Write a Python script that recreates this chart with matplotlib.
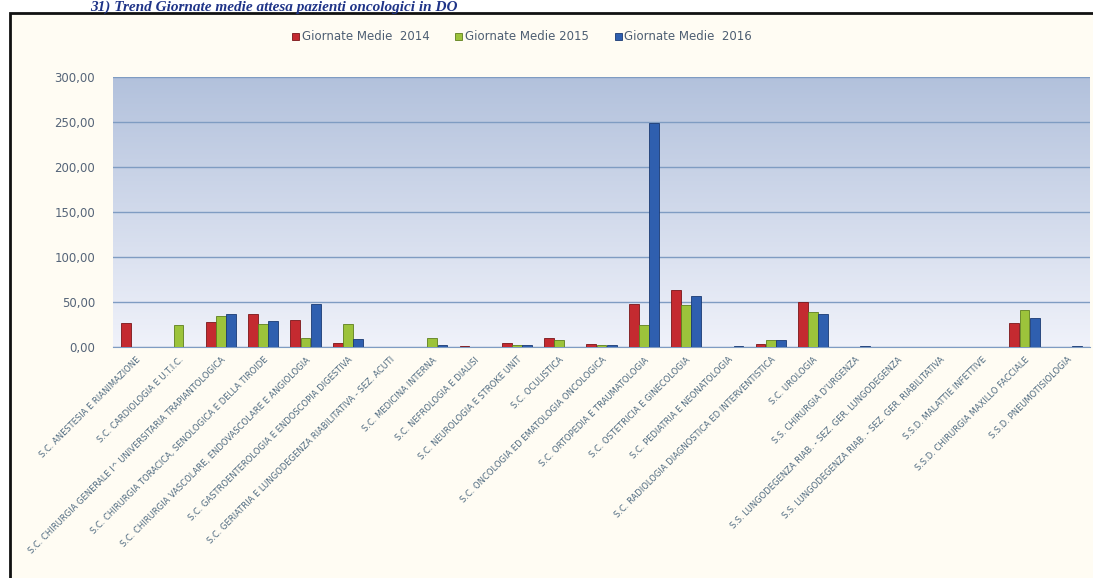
import numpy as np
import matplotlib
matplotlib.use("Agg")
import matplotlib.pyplot as plt
from matplotlib.patches import Rectangle
from matplotlib.ticker import FuncFormatter

categories = [
    "S.C. ANESTESIA E RIANIMAZIONE",
    "S.C. CARDIOLOGIA E U.T.I.C.",
    "S.C. CHIRURGIA GENERALE I^ UNIVERSITARIA TRAPIANTOLOGICA",
    "S.C. CHIRURGIA TORACICA, SENOLOGICA E DELLA TIROIDE",
    "S.C. CHIRURGIA VASCOLARE, ENDOVASCOLARE E ANGIOLOGIA",
    "S.C. GASTROENTEROLOGIA E ENDOSCOPIA DIGESTIVA",
    "S.C. GERIATRIA E LUNGODEGENZA RIABILITATIVA - SEZ. ACUTI",
    "S.C. MEDICINA INTERNA",
    "S.C. NEFROLOGIA E DIALISI",
    "S.C. NEUROLOGIA E STROKE UNIT",
    "S.C. OCULISTICA",
    "S.C. ONCOLOGIA ED EMATOLOGIA ONCOLOGICA",
    "S.C. ORTOPEDIA E TRAUMATOLOGIA",
    "S.C. OSTETRICIA E GINECOLOGIA",
    "S.C. PEDIATRIA E NEONATOLOGIA",
    "S.C. RADIOLOGIA DIAGNOSTICA ED INTERVENTISTICA",
    "S.C. UROLOGIA",
    "S.S. CHIRURGIA D'URGENZA",
    "S.S. LUNGODEGENZA RIAB. - SEZ. GER. LUNGODEGENZA",
    "S.S. LUNGODEGENZA RIAB. - SEZ. GER. RIABILITATIVA",
    "S.S.D. MALATTIE INFETTIVE",
    "S.S.D. CHIRURGIA MAXILLO FACCIALE",
    "S.S.D. PNEUMOTISIOLOGIA",
]

giornate_2014 = [27.2, 0, 27.8, 37, 30.5, 4, 0, 0, 1, 4.5, 10, 3, 48, 63, 0, 3, 50, 0, 0, 0, 0, 26.7, 0]
giornate_2015 = [0, 24, 35, 26, 9.5, 26, 0, 10, 0.5, 2, 7.5, 2, 24, 46.5, 0, 8, 39, 0, 0, 0, 0, 41, 0]
giornate_2016 = [0, 0, 37, 28.6, 48, 9, 0, 2, 0.5, 2, 0, 2, 249, 56.5, 1, 8, 36.4, 1, 0, 0, 0, 32, 0.7]

series_labels = ["Giornate Medie  2014", "Giornate Medie 2015", "Giornate Medie  2016"]
series_colors = ["#c42a30", "#9cc33b", "#2f5faf"]
edge_colors = ["#7a1518", "#5e7f1d", "#1a3a73"]

title = "31) Trend Giornate medie attesa pazienti oncologici in DO"

W, H = 1093, 578
fig = plt.figure(figsize=(W / 100, H / 100), dpi=100)
fig.patch.set_facecolor("white")

# chart frame (drawn behind the axes)
frame = Rectangle((10 / W, -0.05), 1.2, 1 - 13 / H + 0.05, transform=fig.transFigure,
                  facecolor="#fffcf3", edgecolor="#111111", linewidth=2.0, zorder=-10)
fig.patches.append(frame)

fig.text(90 / W, 1 - 11 / H, title, fontsize=11, fontweight="bold", fontstyle="italic",
         family="Liberation Serif", color="#1f3488", va="baseline", ha="left")

ax = fig.add_axes([113 / W, 1 - 347 / H, 977 / W, 270 / H])
ax.set_zorder(5)
ax.set_facecolor("none")

x = np.arange(len(categories))
xlim = (-0.55, len(categories) - 0.45)

# gradient background of the plot area
grad = np.linspace(0, 1, 256).reshape(-1, 1)
top = np.array([178, 193, 220]) / 255
bot = np.array([240, 242, 250]) / 255
img = top[None, None, :] * (1 - grad[:, :, None]) + bot[None, None, :] * grad[:, :, None]
ax.imshow(img, extent=[xlim[0], xlim[1], 0, 300], aspect="auto", origin="upper", zorder=0)
ax.set_xlim(*xlim)
ax.set_ylim(0, 300)

w = 0.24
for i, (vals, lab, c, ec) in enumerate(zip([giornate_2014, giornate_2015, giornate_2016],
                                           series_labels, series_colors, edge_colors)):
    ax.bar(x + (i - 1) * w, vals, width=w * 0.97, color=c, edgecolor=ec, linewidth=0.6,
           label=lab, zorder=3)

ax.set_yticks(np.arange(0, 301, 50))
ax.yaxis.set_major_formatter(FuncFormatter(lambda v, p: f"{v:.2f}".replace(".", ",")))
ax.grid(axis="y", color="#7f9cc2", linewidth=1.0, zorder=1)
ax.set_axisbelow(True)
for s in ["top", "right", "left"]:
    ax.spines[s].set_visible(False)
ax.spines["bottom"].set_color("#7f9cc2")
ax.tick_params(axis="y", length=0, pad=13, labelsize=8.5, labelcolor="#556478")
ax.tick_params(axis="x", length=0, pad=6)

ax.set_xticks(x)
ax.set_xticklabels(categories, rotation=45, ha="right", va="top", rotation_mode="anchor",
                   fontsize=6, color="#4f6a80")

fig.legend(loc="center", bbox_to_anchor=(522 / W, 1 - 37 / H), ncol=3, frameon=False,
           fontsize=8.5, handlelength=0.6, handleheight=0.6, handletextpad=0.2,
           columnspacing=2.2, labelcolor="#4d5e72")

fig.savefig("out.png", dpi=100, facecolor=fig.get_facecolor())
